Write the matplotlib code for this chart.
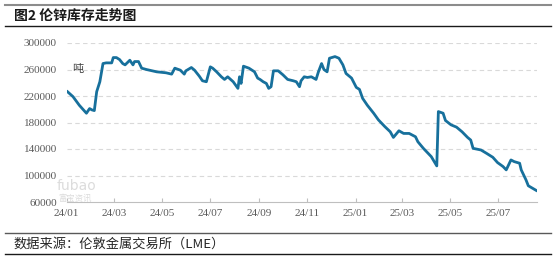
import matplotlib
matplotlib.use("Agg")
import matplotlib.pyplot as plt
import matplotlib.dates as mdates
import pandas as pd

plt.rcParams['font.family'] = ['Noto Sans CJK SC', 'DejaVu Sans']

# LME zinc stocks (tonnes)
dates = [
    "2024-01-02", "2024-01-09", "2024-01-17", "2024-01-26", "2024-01-30", "2024-02-02",
    "2024-02-05", "2024-02-08", "2024-02-12", "2024-02-16", "2024-02-20", "2024-02-27",
    "2024-02-29", "2024-03-04", "2024-03-08", "2024-03-12", "2024-03-15", "2024-03-21",
    "2024-03-25", "2024-03-27", "2024-04-01", "2024-04-05", "2024-04-11", "2024-04-24",
    "2024-05-06", "2024-05-13", "2024-05-17", "2024-05-24", "2024-05-29", "2024-05-31",
    "2024-06-07", "2024-06-11", "2024-06-17", "2024-06-21", "2024-06-26", "2024-07-01",
    "2024-07-04", "2024-07-09", "2024-07-15", "2024-07-19", "2024-07-23", "2024-07-30",
    "2024-08-05", "2024-08-07", "2024-08-09", "2024-08-12", "2024-08-19", "2024-08-26",
    "2024-08-30", "2024-09-02", "2024-09-06", "2024-09-10", "2024-09-13", "2024-09-16",
    "2024-09-19", "2024-09-25", "2024-10-01", "2024-10-07", "2024-10-14", "2024-10-18",
    "2024-10-22", "2024-10-24", "2024-10-28", "2024-11-01", "2024-11-06", "2024-11-12",
    "2024-11-15", "2024-11-19", "2024-11-22", "2024-11-26", "2024-11-29", "2024-12-06",
    "2024-12-11", "2024-12-16", "2024-12-20", "2024-12-27", "2025-01-02", "2025-01-06",
    "2025-01-10", "2025-01-16", "2025-01-24", "2025-01-30", "2025-02-07", "2025-02-14",
    "2025-02-18", "2025-02-25", "2025-03-03", "2025-03-10", "2025-03-18", "2025-03-21",
    "2025-03-28", "2025-04-07", "2025-04-14", "2025-04-16", "2025-04-22", "2025-04-25",
    "2025-05-02", "2025-05-09", "2025-05-16", "2025-05-23", "2025-05-27", "2025-05-30",
    "2025-06-09", "2025-06-16", "2025-06-24", "2025-06-30", "2025-07-07", "2025-07-11",
    "2025-07-17", "2025-07-21", "2025-07-28", "2025-07-30", "2025-08-05", "2025-08-08",
    "2025-08-18",
]
stocks = [
    226500, 219000, 206000, 194000, 201000, 199000,
    198000, 226500, 241500, 269000, 270000, 270000,
    278000, 278000, 275000, 269000, 267000, 274000,
    267000, 272000, 272000, 262000, 260000, 256500,
    255000, 253000, 262000, 259000, 253000, 258000,
    263000, 259000, 250000, 243000, 241500, 264000,
    262000, 256500, 249000, 245000, 249000, 241500,
    231500, 249000, 239000, 265000, 262000, 256500,
    247000, 245000, 241500, 239000, 231500, 234000,
    258000, 258000, 252000, 245000, 243000, 241500,
    234000, 243000, 249000, 248000, 249000, 245000,
    256500, 269000, 260000, 256500, 277000, 279500,
    277000, 267000, 254000, 247000, 233000, 230000,
    216500, 206000, 194000, 184000, 174000, 166000,
    157500, 167500, 163500, 163500, 158500, 151000,
    141000, 128500, 114500, 196500, 194000, 183000,
    176500, 173000, 166000, 157500, 153500, 141000,
    138500, 133500, 127500, 119500, 113500, 108500,
    123500, 121000, 118500, 108500, 93500, 84500,
    77500,
]
y_ticks = [60000, 100000, 140000, 180000, 220000, 260000, 300000]

title = "图2 伦锌库存走势图"
source = "数据来源：伦敦金属交易所（LME）"

df = pd.DataFrame({"date": pd.to_datetime(dates), "stock": stocks})

fig = plt.figure(figsize=(5.54, 2.59), dpi=100)
ax = fig.add_axes([66.7 / 554, 1 - 202 / 259, (537 - 66.7) / 554, (202 - 43) / 259])

ax.plot(df["date"], df["stock"], color="#17709c", linewidth=2.0, solid_joinstyle="round")

ax.set_ylim(60000, 300000)
ax.set_yticks(y_ticks)
ax.set_xlim(pd.Timestamp("2024-01-01"), pd.Timestamp("2025-08-19"))
ax.xaxis.set_major_locator(mdates.MonthLocator(bymonth=[1, 3, 5, 7, 9, 11]))
ax.xaxis.set_major_formatter(mdates.DateFormatter("%y/%m"))

for v in y_ticks[1:]:
    ax.axhline(v, color="#d9d9d9", linewidth=0.8, linestyle=(0, (4, 3)), zorder=0)

for s in ["top", "right", "left"]:
    ax.spines[s].set_visible(False)
ax.spines["bottom"].set_color("#bfbfbf")
ax.spines["bottom"].set_linewidth(0.8)
ax.tick_params(axis="y", length=0, pad=7, labelsize=8, labelcolor="#595959")
ax.tick_params(axis="x", direction="in", length=3, color="#bfbfbf", pad=5,
               labelsize=8, labelcolor="#595959")
for lbl in ax.get_xticklabels() + ax.get_yticklabels():
    lbl.set_family(["Liberation Serif"])

ax.text(0.012, 0.82, "吨", transform=ax.transAxes, fontsize=8, color="#404040")

# faint watermark
fig.text(57 / 554, 1 - 190 / 259, "fubao", fontsize=10, color="#dcdcdc", family=["DejaVu Sans"])
fig.text(58 / 554, 1 - 201 / 259, "富宝资讯", fontsize=6, color="#dcdcdc")

# header / footer rules and texts
fig.add_artist(plt.Line2D([5 / 554, 551 / 554], [1 - 5 / 259] * 2, color="#8c8c8c", linewidth=1.5))
fig.add_artist(plt.Line2D([5 / 554, 551 / 554], [1 - 26 / 259] * 2, color="#1a1a1a", linewidth=1.0))
fig.add_artist(plt.Line2D([5 / 554, 551 / 554], [1 - 233 / 259] * 2, color="#595959", linewidth=1.0))
fig.add_artist(plt.Line2D([5 / 554, 551 / 554], [1 - 254 / 259] * 2, color="#1a1a1a", linewidth=1.0))

fig.text(14 / 554, 1 - 16 / 259, title, fontsize=10, fontweight="bold", va="center", color="#1a1a1a")
fig.text(13 / 554, 1 - 244 / 259, source, fontsize=9.5, va="center", color="#262626")

fig.savefig("out.png", dpi=100)
